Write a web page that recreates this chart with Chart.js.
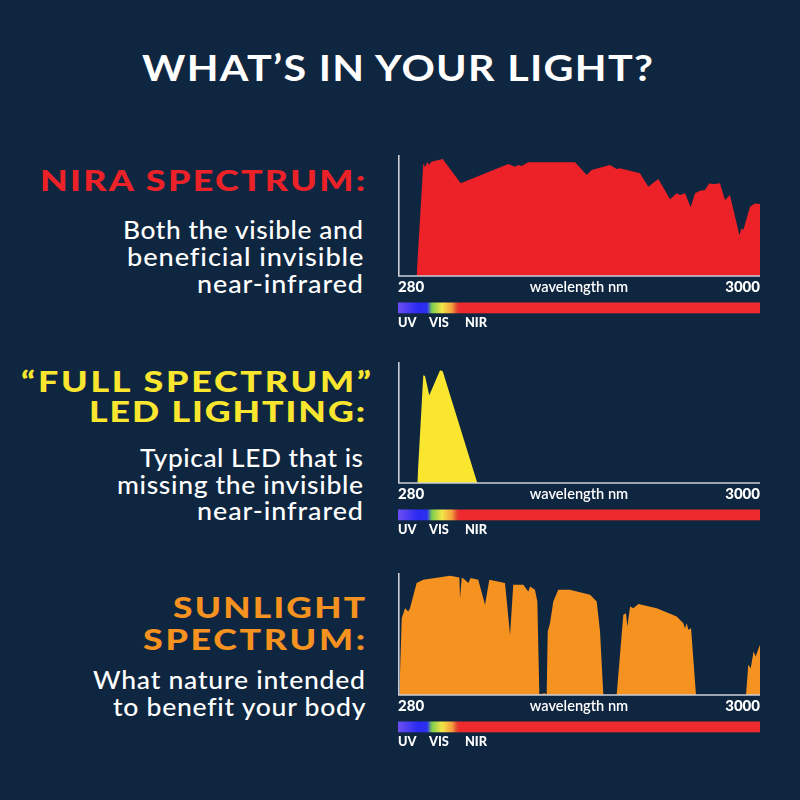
<!DOCTYPE html>
<html>
<head>
<meta charset="utf-8">
<script src="https://cdn.jsdelivr.net/npm/chart.js@4.4.1/dist/chart.umd.min.js"></script>
<style>
html,body{margin:0;padding:0;background:#0f2640;}
#page{position:relative;width:800px;height:800px;overflow:hidden;background:#0f2640;font-family:Lato,"Noto Sans",sans-serif;}
.t{position:absolute;white-space:nowrap;line-height:1.2;margin:0;transform-origin:0 50%;}
canvas{position:absolute;}
</style>
</head>
<body>
<div id="page">
  <canvas id="c1"></canvas>
  <canvas id="c2"></canvas>
  <canvas id="c3"></canvas>
</div>
<script>
// ---------------- DATA ----------------
const axisRange = [280, 3000];                 // wavelength nm
const tickValues = [280, 1640, 3000];
const tickLabels = ['280', 'wavelength nm', '3000'];
const bandLabels = ['UV', 'VIS', 'NIR'];
const bandLabelNm = [280, 513, 783];

// NIRA spectrum (relative intensity, 0-100)
const niraNm  = [420, 470, 483, 500, 515, 530, 616, 751, 1109, 1159, 1184, 1209, 1259, 1610, 1698, 1735, 1873, 1923, 1948, 2098, 2161, 2236, 2324, 2374, 2399, 2437, 2479, 2512, 2549, 2587, 2619, 2649, 2699, 2737, 2774, 2845, 2863, 2875, 2925, 2963, 3000];
const niraVal = [0, 93, 90, 94, 92, 94.5, 96.7, 76.6, 92.6, 90.3, 91.7, 91, 94, 94, 83.5, 87.6, 91.7, 88.4, 89, 84.9, 73.8, 80.2, 63.4, 68.3, 66.9, 68.3, 56.8, 68.3, 70.5, 71, 76.6, 75.8, 76.6, 62.8, 66.9, 33.9, 39.4, 38, 57.3, 60, 59.5];

// "Full spectrum" LED
const ledNm  = [425, 470, 483, 515, 596, 616, 876];
const ledVal = [0, 89, 88.4, 72.5, 93.1, 92.3, 0];

// Sunlight spectrum
const sunNm  = [290, 308, 333, 357, 370, 420, 470, 671, 741, 746, 759, 783, 808, 826, 883, 934, 966, 1084, 1122, 1146, 1221, 1259, 1272, 1309, 1327, 1342, 1385, 1397, 1405, 1422, 1447, 1484, 1572, 1723, 1773, 1798, 1823, 1923, 1973, 1993, 2003, 2024, 2048, 2086, 2224, 2374, 2424, 2437, 2450, 2461, 2482, 2519, 2895, 2912, 2930, 2952, 2967, 3000];
const sunVal = [0, 63, 71.2, 68.5, 71.2, 91.8, 94.5, 97.8, 96.4, 79.5, 96.4, 94.5, 91.8, 95.9, 94.5, 74, 94.5, 91.8, 49.3, 90.4, 90.4, 84.9, 89, 86.3, 76.7, 0.6, 1.4, 0, 52, 58.9, 76.7, 86.3, 86.3, 82.2, 76.7, 52, 0, 0, 65.7, 67.1, 56.1, 72.6, 71.2, 74.5, 71.2, 64.3, 58.9, 54.8, 58.9, 53.4, 54.8, 0, 0, 24.7, 21.9, 35.6, 31.5, 41.1];

// ---------------- TEXT ----------------
const titleText = 'WHAT’S IN YOUR LIGHT?';
const niraHead = ['NIRA SPECTRUM:'];
const niraBody = ['Both the visible and', 'beneficial invisible', 'near-infrared'];
const ledHead = ['“FULL SPECTRUM”', 'LED LIGHTING:'];
const ledBody = ['Typical LED that is', 'missing the invisible', 'near-infrared'];
const sunHead = ['SUNLIGHT', 'SPECTRUM:'];
const sunBody = ['What nature intended', 'to benefit your body'];

// ---------------- STYLE ----------------
const RED = '#ed2128', YELLOW = '#fbe62f', ORANGE = '#f6921f', WHITE = '#ffffff';
const AXIS = '#c9ced9';
const gradStops = [[280,'#6c4ef2'],[430,'#2b2bf2'],[498,'#2a2ff0'],[535,'#7ccf4c'],[611,'#f3e646'],[686,'#f59d3e'],[723,'#e2432d'],[746,'#ee2a2e'],[3000,'#ee2a2e']];

const page = document.getElementById('page');
function addText(txt, o) {
  const d = document.createElement('div');
  d.className = 't';
  d.textContent = txt;
  d.style.fontSize = o.size + 'px';
  d.style.fontWeight = o.weight;
  d.style.color = o.color;
  d.style.left = o.l + 'px';
  d.style.top = (o.base - 0.987 * o.size) + 'px';
  page.appendChild(d);
  const w = d.getBoundingClientRect().width;
  const n = Array.from(txt).length;
  const target = o.r - o.l;
  const r = target / w;
  let sx = 1 + (r - 1) * (o.mix == null ? 0.6 : o.mix);
  sx = Math.max(0.9, Math.min(1.28, sx));
  const s = (target / sx - w) / Math.max(1, n - 1);
  d.style.letterSpacing = s + 'px';
  d.style.transform = 'scaleX(' + sx + ')';
}
addText(titleText, {size:36, weight:700, color:WHITE, base:82, l:142, r:653, mix:0.7});
const H = 28, B = 25;
function block(heads, headBases, headLR, bodies, bodyBases, bodyLR, color) {
  heads.forEach((t,i)=>addText(t,{size:H,weight:900,color:color,base:headBases[i],l:headLR[i][0],r:headLR[i][1],mix:0.7}));
  bodies.forEach((t,i)=>addText(t,{size:B,weight:500,color:WHITE,base:bodyBases[i],l:bodyLR[i][0],r:bodyLR[i][1],mix:0.5}));
}
block(niraHead,[192],[[40,365]],niraBody,[239,266,293],[[123,363],[127,363],[197,363]],RED);
block(ledHead,[393,423],[[21,371],[89,365]],ledBody,[467,493.5,520],[[140,363],[117,363],[197,363]],YELLOW);
block(sunHead,[619,651],[[173,365],[143,365]],sunBody,[689,716],[[93,365],[113,365]],ORANGE);

// ---------------- CHARTS ----------------
const decor = {
  id: 'decor',
  afterDatasetsDraw(chart) {
    const {ctx, chartArea:a, scales:{x}} = chart;
    ctx.save();
    // axes
    ctx.strokeStyle = AXIS; ctx.lineWidth = 1.6;
    ctx.beginPath();
    ctx.moveTo(a.left + 0.8, a.top);
    ctx.lineTo(a.left + 0.8, a.bottom);
    ctx.lineTo(a.right, a.bottom);
    ctx.stroke();
    // tick labels
    ctx.fillStyle = WHITE; ctx.textBaseline = 'alphabetic';
    ctx.font = '900 15px Lato';
    ctx.textAlign = 'left';
    ctx.fillText(tickLabels[0], x.getPixelForValue(tickValues[0]), a.bottom + 15.7);
    ctx.textAlign = 'right';
    ctx.fillText(tickLabels[2], x.getPixelForValue(tickValues[2]), a.bottom + 15.7);
    ctx.font = '600 14.6px Lato';
    ctx.textAlign = 'center';
    ctx.fillText(tickLabels[1], x.getPixelForValue(tickValues[1]), a.bottom + 15.7);
    // spectrum bar
    const x0 = x.getPixelForValue(axisRange[0]), x1 = x.getPixelForValue(axisRange[1]);
    const g = ctx.createLinearGradient(x0, 0, x1, 0);
    gradStops.forEach(([nm,c]) => g.addColorStop((nm - axisRange[0]) / (axisRange[1] - axisRange[0]), c));
    ctx.fillStyle = g;
    ctx.fillRect(x0, a.bottom + 26.5, x1 - x0, 10.8);
    // band labels
    ctx.fillStyle = WHITE; ctx.font = '900 12.8px Lato'; ctx.textAlign = 'left';
    bandLabels.forEach((t,i)=>ctx.fillText(t, x.getPixelForValue(bandLabelNm[i]), a.bottom + 50.7));
    ctx.restore();
  }
};

function makeChart(id, top, bottom, nm, val, color) {
  const cv = document.getElementById(id);
  const padTop = 10, padBot = 70;
  cv.width = 380; cv.height = (bottom - top) + padTop + padBot;
  cv.style.left = '390px'; cv.style.top = (top - padTop) + 'px';
  cv.style.width = '380px'; cv.style.height = cv.height + 'px';
  new Chart(cv, {
    type: 'line',
    data: {
      datasets: [{
        data: nm.map((v,i)=>({x:v, y:val[i]})),
        fill: 'origin',
        backgroundColor: color,
        borderColor: color,
        borderWidth: 0,
        pointRadius: 0,
        tension: 0
      }]
    },
    options: {
      responsive: false,
      animation: false,
      layout: {padding: {left: 8, right: 10, top: padTop, bottom: padBot}},
      plugins: {legend: {display: false}, tooltip: {enabled: false}},
      scales: {
        x: {type: 'linear', min: axisRange[0], max: axisRange[1], display: false},
        y: {min: 0, max: 100, display: false}
      }
    },
    plugins: [decor]
  });
}
makeChart('c1', 155, 276, niraNm, niraVal, RED);
makeChart('c2', 362, 483, ledNm, ledVal, YELLOW);
makeChart('c3', 573, 695, sunNm, sunVal, ORANGE);
</script>
</body>
</html>
